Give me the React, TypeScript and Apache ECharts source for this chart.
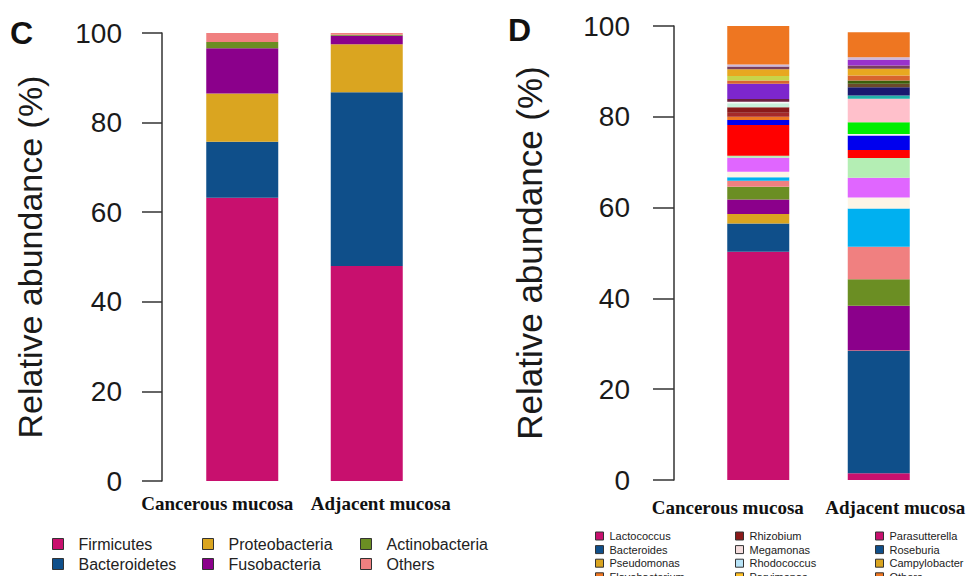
import React, { useEffect, useRef } from "react";
import * as echarts from "echarts";

// ---------- Panel C (phylum level) ----------
const categories = ["Cancerous mucosa", "Adjacent mucosa"];
const phylumNames = ["Firmicutes", "Bacteroidetes", "Proteobacteria", "Fusobacteria", "Actinobacteria", "Others"];
const phylumColors = ["#c8106e", "#0f4f8a", "#daa520", "#8b008b", "#6b8e23", "#f08080"];
const phylumCancerous = [63.2, 12.5, 10.8, 10.1, 1.4, 2.0];
const phylumAdjacent = [48.0, 38.8, 10.7, 1.9, 0.2, 0.4];

// ---------- Panel D (genus level), stacked bottom-up ----------
const genusNames = [
  "Lactococcus", "Bacteroides", "Pseudomonas", "Genus 04", "Genus 05", "Genus 06",
  "Genus 07", "Genus 08", "Genus 09", "Genus 10", "Genus 11", "Genus 12",
  "Genus 13", "Genus 14", "Flavobacterium", "Genus 16", "Rhizobium", "Megamonas",
  "Rhodococcus", "Genus 20", "Genus 21", "Roseburia", "Genus 23", "Genus 24",
  "Genus 25", "Genus 26", "Campylobacter", "Genus 28", "Parvimonas", "Parasutterella",
  "Genus 31", "Genus 32", "Others",
];
const genusColors = [
  "#c8106e", "#0f4f8a", "#daa520", "#8b008b", "#6b8e23", "#f08080",
  "#00b0f0", "#fdf5e6", "#e066ff", "#b4eeb4", "#ff0000", "#0000ee",
  "#f2f2f2", "#00ee00", "#ee7621", "#a52a2a", "#8b1a1a", "#ffc0cb",
  "#c8f0dc", "#20b2aa", "#f8f8f8", "#191970", "#6b2040", "#6b4a2a",
  "#7d26cd", "#3b5e0b", "#d8652e", "#c8d44a", "#e8a820", "#7b3f5e",
  "#9932cc", "#cdb8dc", "#ee7621",
];
const genusCancerous = [
  50.3, 6.2, 2.1, 3.2, 2.8, 1.3,
  0.8, 1.2, 3.1, 0.4, 6.8, 1.1,
  0, 0, 0.7, 0.9, 1.2, 0,
  0.9, 0, 0.3, 0, 0.6, 0,
  3.4, 0, 0.7, 1.0, 1.5, 0.6,
  0, 0.4, 8.6,
];
const genusAdjacent = [
  1.5, 26.9, 0.1, 9.9, 5.8, 7.2,
  8.4, 2.4, 4.4, 4.3, 1.8, 3.2,
  0.3, 2.6, 0, 0, 0, 5.2,
  0, 0.7, 0, 1.8, 0, 0.8,
  0, 0.7, 1.1, 0, 1.5, 0.7,
  1.2, 0.6, 5.5,
];

// Legend (panel D) as shown in the picture, columns
const dLegendCol1 = ["Lactococcus", "Bacteroides", "Pseudomonas", "Flavobacterium"];
const dLegendCol1Colors = ["#c8106e", "#0f4f8a", "#daa520", "#ee7621"];
const dLegendCol2 = ["Rhizobium", "Megamonas", "Rhodococcus", "Parvimonas"];
const dLegendCol2Colors = ["#8b1a1a", "#f5dede", "#b8e4f8", "#ffc125"];
const dLegendCol3 = ["Parasutterella", "Roseburia", "Campylobacter", "Others"];
const dLegendCol3Colors = ["#c8106e", "#0f4f8a", "#daa520", "#ee7621"];

const yTicks = { min: 0, max: 100, interval: 20 };

const SANS = "'Liberation Sans', Arial, sans-serif";
const SERIF = "'Liberation Serif', 'Times New Roman', serif";

export default function App() {
  const ref = useRef<HTMLDivElement>(null);

  useEffect(() => {
    if (!ref.current) return;
    const chart = echarts.init(ref.current, undefined, { renderer: "svg" });

    const axisColor = "#333";
    const makeY = (gridIndex: number, offset: number, tickLen: number, margin: number, nameGap: number, nameSize: number) => ({
      type: "value",
      gridIndex,
      min: yTicks.min,
      max: yTicks.max,
      interval: yTicks.interval,
      offset,
      name: "Relative abundance (%)",
      nameLocation: "middle",
      nameGap,
      nameTextStyle: { fontSize: nameSize, color: "#1a1a1a", fontFamily: SANS },
      axisLine: { show: true, lineStyle: { color: axisColor, width: 1.5 } },
      axisTick: { show: true, length: tickLen, lineStyle: { color: axisColor, width: 1.5 } },
      axisLabel: { fontSize: 28, color: "#1a1a1a", margin, fontFamily: SANS },
      splitLine: { show: false },
    });

    const makeX = (gridIndex: number, pads: number[][], margin: number) => ({
      type: "category",
      gridIndex,
      data: categories.map((c, i) => ({ value: c, textStyle: { padding: pads[i] } })),
      axisLine: { show: false },
      axisTick: { show: false },
      axisLabel: {
        interval: 0,
        fontFamily: SERIF,
        fontWeight: "bold",
        fontSize: 19,
        color: "#111",
        margin,
      },
    });

    const cSeries = phylumNames.map((name, i) => ({
      type: "bar",
      name,
      stack: "C",
      xAxisIndex: 0,
      yAxisIndex: 0,
      barWidth: 72,
      itemStyle: { color: phylumColors[i] },
      data: [phylumCancerous[i], phylumAdjacent[i]],
    }));

    const dSeries = genusNames.map((name, i) => ({
      type: "bar",
      name,
      stack: "D",
      xAxisIndex: 1,
      yAxisIndex: 1,
      barWidth: 62,
      itemStyle: { color: genusColors[i] },
      data: [genusCancerous[i], genusAdjacent[i]],
    }));

    const legendBase = (left: number, top: number, big: boolean) => ({
      orient: "vertical",
      left,
      top,
      height: 100,
      padding: 0,
      selectedMode: false,
      icon: "rect",
      itemWidth: big ? 11 : 8,
      itemHeight: big ? 11 : 8,
      itemGap: big ? 2 : 1.6,
      itemStyle: { borderColor: "#333", borderWidth: 1 },
      textStyle: {
        fontFamily: SANS,
        fontSize: big ? 16 : 11,
        lineHeight: big ? 18 : 12,
        color: "#222",
        padding: big ? [0, 0, 0, 10] : [0, 0, 0, 1],
      },
    });

    const legendData = (names: string[], colors: string[]) =>
      names.map((n, i) => ({ name: n, itemStyle: { color: colors[i], borderColor: "#333", borderWidth: 1 } }));

    chart.setOption({
      animation: false,
      backgroundColor: "#ffffff",
      textStyle: { fontFamily: SANS },
      grid: [
        { left: 180, top: 33, width: 249, height: 448 },
        { left: 698, top: 26, width: 241, height: 454 },
      ],
      xAxis: [
        makeX(0, [[0, 50, 0, 0], [0, 0, 0, 28]], 13),
        makeX(1, [[0, 61, 0, 0], [0, 0, 0, 33]], 18),
      ],
      yAxis: [makeY(0, 18, 20, 40, 115, 34), makeY(1, 24, 21, 44, 127, 35)],
      legend: [
        { ...legendBase(52, 535, true), data: legendData(phylumNames.slice(0, 2), phylumColors.slice(0, 2)) },
        { ...legendBase(202, 535, true), data: legendData(phylumNames.slice(2, 4), phylumColors.slice(2, 4)) },
        { ...legendBase(360, 535, true), data: legendData(phylumNames.slice(4, 6), phylumColors.slice(4, 6)) },
        { ...legendBase(595, 530, false), data: legendData(dLegendCol1, dLegendCol1Colors) },
        { ...legendBase(735, 530, false), data: legendData(dLegendCol2, dLegendCol2Colors) },
        { ...legendBase(875, 530, false), data: legendData(dLegendCol3, dLegendCol3Colors) },
      ],
      graphic: [
        {
          type: "text",
          left: 10,
          top: 17,
          style: { text: "C", font: `bold 32px ${SANS}`, fill: "#111" },
        },
        {
          type: "text",
          left: 508,
          top: 14,
          style: { text: "D", font: `bold 32px ${SANS}`, fill: "#111" },
        },
      ],
      series: [...cSeries, ...dSeries],
    });

    return () => chart.dispose();
  }, []);

  return (
    <div
      ref={ref}
      style={{ position: "absolute", left: 0, top: 0, width: 973, height: 576, background: "#fff" }}
    />
  );
}
